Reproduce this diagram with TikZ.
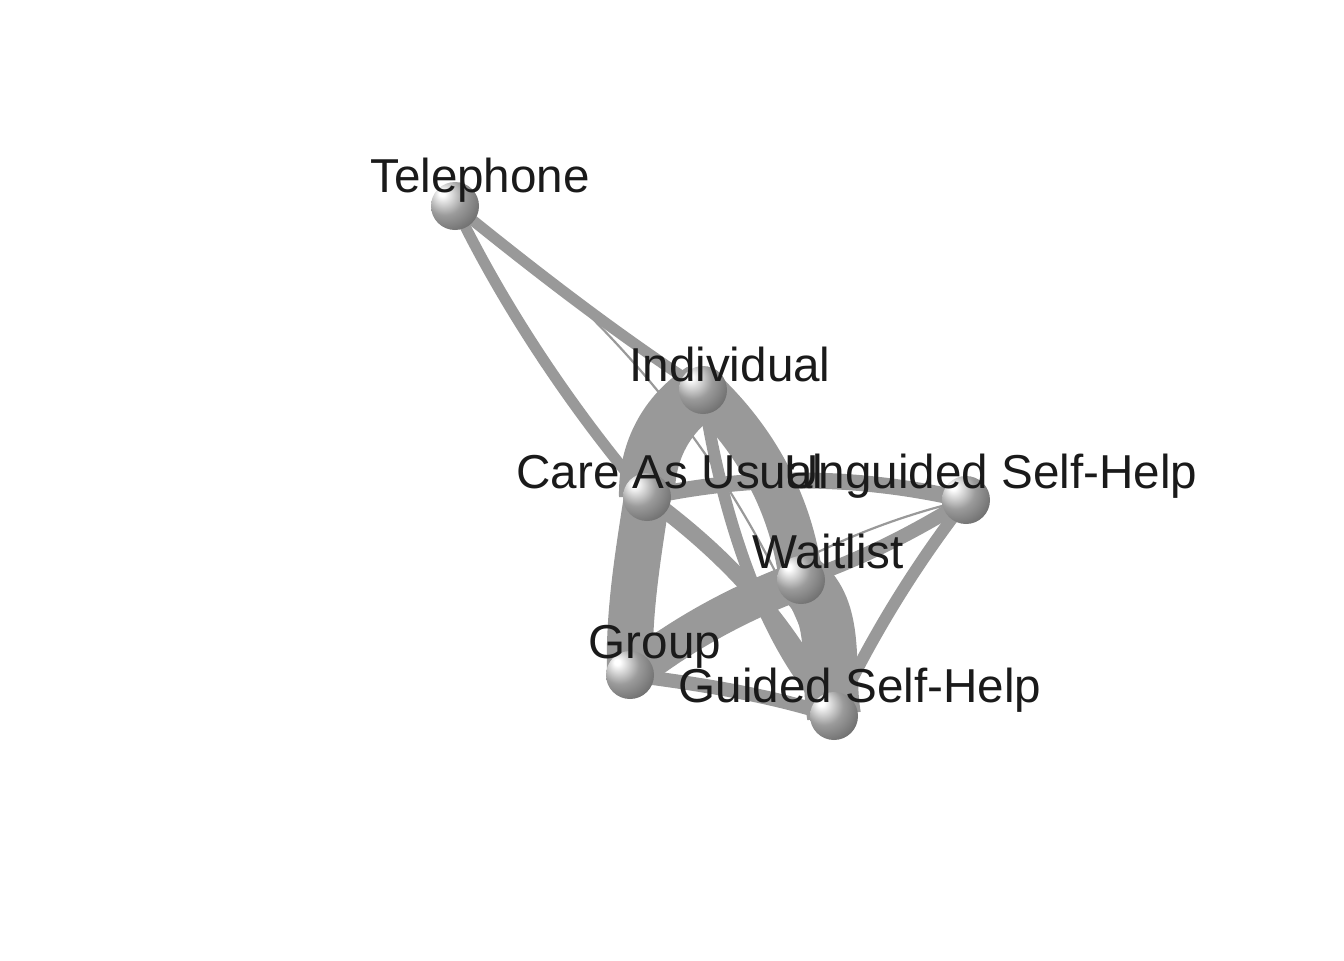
\documentclass[tikz,border=0pt]{standalone}
\usepackage{fontspec}
\setmainfont{Liberation Sans}
\pgfdeclarelayer{bg}
\pgfsetlayers{bg,main}
\definecolor{edgegray}{RGB}{153,153,153}
\definecolor{labelcol}{RGB}{26,26,26}
\definecolor{sphA}{RGB}{255,255,255}
\definecolor{sphB}{RGB}{155,155,155}
\definecolor{sphC}{RGB}{100,100,100}
\definecolor{sphD}{RGB}{62,62,62}
\pgfdeclareradialshading{sphereshade}{\pgfpoint{-14bp}{14bp}}{color(0bp)=(sphA); color(3bp)=(sphA); color(20bp)=(sphB); color(40bp)=(sphC); color(58bp)=(sphD); color(80bp)=(sphD)}
\begin{document}
\begin{tikzpicture}[x=0.5pt,y=-0.5pt,
  sphere/.style={circle, minimum size=24pt, inner sep=0pt, shading=sphereshade},
  edge/.style={draw=edgegray, line cap=butt},
  lab/.style={anchor=base, text=labelcol, font=\fontsize{23.8}{28}\selectfont, inner sep=0pt}]
\useasboundingbox (0,0) rectangle (1344,960);
% nodes
\node[sphere] (tel) at (455,206) {};
\node[sphere] (ind) at (703,390) {};
\node[sphere] (cau) at (647,497) {};
\node[sphere] (ugsh) at (966,500) {};
\node[sphere] (wl) at (801,580) {};
\node[sphere] (grp) at (630,675) {};
\node[sphere] (gsh) at (834,716) {};
% edges
\begin{pgfonlayer}{bg}
\draw[edge, line width=5.5pt] (tel.center) .. controls (540,275) and (625,340) .. (ind.center);
\draw[edge, line width=1.1pt] (tel.center) .. controls (600,300) and (760,480) .. (gsh.center);
\draw[edge, line width=5.5pt] (tel.center) .. controls (510,320) and (585,425) .. (cau.center);
\draw[edge, line width=28pt] (ind.center) .. controls (666,414) and (646,452) .. (cau.center);
\draw[edge, line width=22pt] (ind.center) .. controls (758,442) and (792,507) .. (wl.center);
\draw[edge, line width=6pt] (ind.center) .. controls (715,480) and (755,640) .. (gsh.center);
\draw[edge, line width=8pt] (cau.center) .. controls (720,550) and (790,620) .. (gsh.center);
\draw[edge, line width=8pt] (cau.center) .. controls (753,474) and (859,475) .. (ugsh.center);
\draw[edge, line width=23pt] (cau.center) .. controls (638,555) and (628,615) .. (grp.center);
\draw[edge, line width=19pt] (grp.center) .. controls (682,634) and (739,603) .. (wl.center);
\draw[edge, line width=7pt] (grp.center) .. controls (700,684) and (770,695) .. (gsh.center);
\draw[edge, line width=27pt] (wl.center) .. controls (840,610) and (826,670) .. (gsh.center);
\draw[edge, line width=7pt] (wl.center) .. controls (860,560) and (915,532) .. (ugsh.center);
\draw[edge, line width=1.1pt] (ugsh.center) .. controls (849,527) and (737,585) .. (grp.center);
\draw[edge, line width=6pt] (ugsh.center) .. controls (914,567) and (870,639) .. (gsh.center);
\end{pgfonlayer}
% labels
\node[lab] (tel-l) at (480,192) {Telephone};
\node[lab] (ind-l) at (730,381) {Individual};
\node[lab] (cau-l) at (670,488) {Care As Usual};
\node[lab] (ugsh-l) at (991,488) {Unguided Self-Help};
\node[lab] (wl-l) at (828,568) {Waitlist};
\node[lab] (grp-l) at (655,658) {Group};
\node[lab] (gsh-l) at (860,702) {Guided Self-Help};
\end{tikzpicture}
\end{document}
